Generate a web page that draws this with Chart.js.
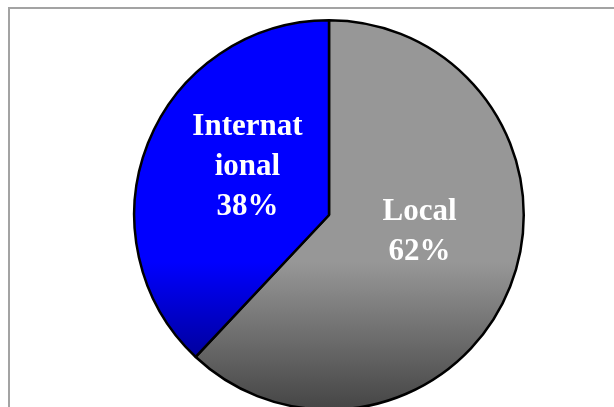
<!DOCTYPE html>
<html>
<head>
<meta charset="utf-8">
<script src="https://cdn.jsdelivr.net/npm/chart.js@4/dist/chart.umd.min.js"></script>
<style>
    body { margin: 0; background: #fff; overflow: hidden; width: 614px; height: 407px; position: relative; }
    #frame { position: absolute; left: 8px; top: 7px; width: 700px; height: 500px; border: 2px solid #a3a3a3; }
    #myChart { position: absolute; left: 0; top: 0; }
</style>
</head>
<body>
<div id="frame"></div>
<canvas id="myChart" width="614" height="430"></canvas>
<script>
// slices, clockwise from 12 o'clock
var categories = ["Local", "International"];
var shares = [62, 38];
// how each slice name is broken over lines inside the pie
var nameLines = [["Local"], ["Internat", "ional"]];

var lightColors = ["#979797", "#0000ff"];
var darkColors = ["#444444", "#000066"];
// small nudges of each label block from the slice centroid
var labelNudge = [[0, -19], [9, -12]];

function sliceFill(ctx) {
    var i = ctx.dataIndex;
    var area = ctx.chart.chartArea;
    if (!area) {
        return lightColors[i];
    }
    var g = ctx.chart.ctx.createLinearGradient(0, area.top, 0, area.bottom);
    g.addColorStop(0, lightColors[i]);
    g.addColorStop(0.62, lightColors[i]);
    g.addColorStop(1, darkColors[i]);
    return g;
}

// writes the name and percentage inside every slice
var sliceLabels = {
    id: "sliceLabels",
    afterDatasetsDraw: function (chart) {
        var ctx = chart.ctx;
        var meta = chart.getDatasetMeta(0);
        var total = shares.reduce(function (a, b) { return a + b; }, 0);
        ctx.save();
        ctx.fillStyle = "#ffffff";
        ctx.font = "bold 31px 'Liberation Serif', 'Times New Roman', serif";
        ctx.textAlign = "center";
        ctx.textBaseline = "middle";
        meta.data.forEach(function (arc, i) {
            var p = arc.getProps(["x", "y", "startAngle", "endAngle", "outerRadius"], true);
            var mid = (p.startAngle + p.endAngle) / 2;
            var cx = p.x + Math.cos(mid) * p.outerRadius * 0.5 + labelNudge[i][0];
            var cy = p.y + Math.sin(mid) * p.outerRadius * 0.5 + labelNudge[i][1];
            var lines = nameLines[i].concat([Math.round(shares[i] / total * 100) + "%"]);
            var lh = 40;
            var y0 = cy - (lines.length - 1) * lh / 2;
            lines.forEach(function (t, k) {
                ctx.fillText(t, cx, y0 + k * lh);
            });
        });
        ctx.restore();
    }
};

var chart = new Chart(document.getElementById("myChart"), {
    type: "pie",
    data: {
        labels: categories,
        datasets: [{
            data: shares,
            backgroundColor: sliceFill,
            borderColor: "#000000",
            borderWidth: 2.5
        }]
    },
    options: {
        responsive: false,
        animation: false,
        layout: {
            padding: { left: 133, right: 89, top: 19, bottom: 19 }
        },
        plugins: {
            legend: { display: false },
            tooltip: { enabled: false }
        }
    },
    plugins: [sliceLabels]
});
</script>
</body>
</html>
